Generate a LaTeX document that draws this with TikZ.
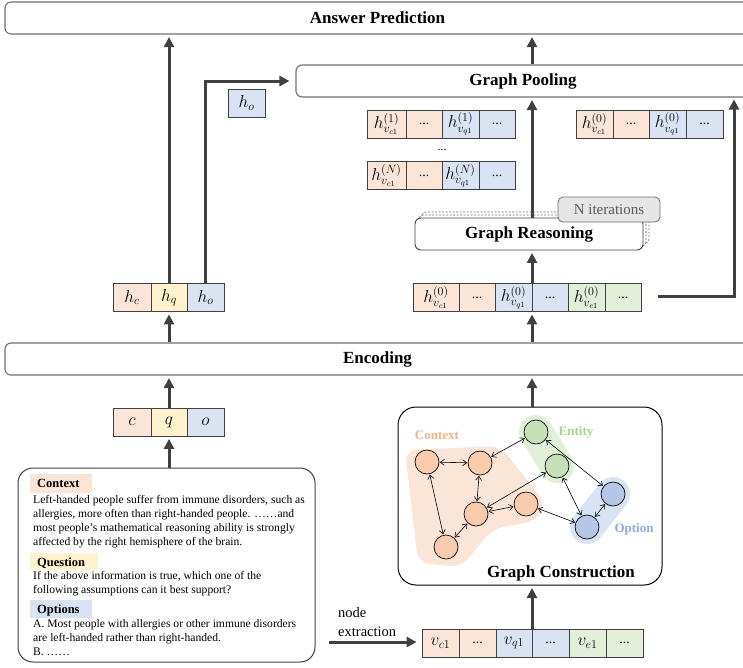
\documentclass[tikz,border=0pt]{standalone}
\usepackage{fontspec}
\setmainfont{Liberation Serif}
\usetikzlibrary{arrows.meta}
\definecolor{corange}{HTML}{FBE5D6}
\definecolor{cyellow}{HTML}{FFF2CC}
\definecolor{cblue}{HTML}{DAE3F3}
\definecolor{cgreen}{HTML}{E2F0D9}
\definecolor{norange}{HTML}{F8CBAD}
\definecolor{ngreen}{HTML}{C5E0B4}
\definecolor{nblue}{HTML}{B4C7E7}
\definecolor{lorange}{HTML}{F4B183}
\definecolor{lgreen}{HTML}{A9D18E}
\definecolor{lblue}{HTML}{8FAADC}
\definecolor{arrcol}{HTML}{404040}
\definecolor{boxcol}{HTML}{707070}
\definecolor{nitfill}{HTML}{E7E6E6}
\definecolor{nittext}{HTML}{595959}
\begin{document}
\begin{tikzpicture}[x=1pt,y=-1pt,
  bigbox/.style={draw=boxcol, line width=1.1pt, rounded corners=6pt, fill=white,
    font=\fontsize{17}{17}\selectfont\bfseries, inner sep=0pt},
  arr/.style={draw=arrcol, line width=3pt, -{Triangle[length=10pt,width=10pt]}, shorten >=2.5pt},
  cell/.style={draw=arrcol, line width=0.8pt, minimum height=28pt, inner sep=0pt,
    font=\fontsize{14}{14}\selectfont},
  mcell/.style={cell, font=\fontsize{16.5}{16.5}\selectfont},
  bigcell/.style={cell, font=\fontsize{17}{17}\selectfont},
  gn/.style={circle, draw=black, line width=0.7pt, minimum size=24pt, inner sep=0pt},
  gedge/.style={draw=black, line width=0.6pt,
    {Straight Barb[length=4pt,width=6pt]}-{Straight Barb[length=4pt,width=6pt]}, shorten <=0.5pt, shorten >=0.5pt},
  body/.style={anchor=base west, inner sep=0pt, font=\fontsize{11.6}{14}\selectfont},
  lab/.style={anchor=base west, inner sep=0pt, font=\fontsize{12.5}{14}\selectfont\bfseries},
  clab/.style={inner sep=0pt, font=\fontsize{13}{13}\selectfont\bfseries},
  ttl/.style={inner sep=0pt, font=\fontsize{17}{17}\selectfont\bfseries},
  dots/.style={inner sep=0pt, font=\fontsize{12}{12}\selectfont}
]
\path[use as bounding box] (0,0) rectangle (743,667);
\clip (0,0) rectangle (743,667);

% ---------- wide boxes ----------
\node[bigbox, minimum width=745pt, minimum height=32pt] (ap) at (377.5,18) {Answer Prediction};
\node[bigbox, minimum width=454pt, minimum height=32pt] (gp) at (523,81) {Graph Pooling};
\node[bigbox, minimum width=745pt, minimum height=32pt] (enc) at (377.5,359) {Encoding};

% ---------- left column ----------
\node[bigcell, fill=corange, minimum width=38pt] (hc) at (132,297.5) {$h_c$};
\node[bigcell, fill=cyellow, minimum width=36pt] (hq) at (169,297.5) {$h_q$};
\node[bigcell, fill=cblue, minimum width=37pt] (ho) at (205.5,297.5) {$h_o$};

\node[bigcell, fill=cblue, minimum width=37pt] (hoo) at (246.5,103) {$h_o$};

\node[bigcell, fill=corange, minimum width=38pt] (cc) at (132,422) {$c$};
\node[bigcell, fill=cyellow, minimum width=36pt] (cq) at (169,422) {$q$};
\node[bigcell, fill=cblue, minimum width=37pt] (co) at (205.5,422) {$o$};

\node[draw=arrcol, line width=1pt, rounded corners=15pt, minimum width=297pt, minimum height=194pt] (tb) at (166.5,565) {};

% labels with background
\fill[corange] (30,474) rectangle (92,493);
\fill[cyellow] (30,553) rectangle (98,570);
\fill[cblue] (30,600) rectangle (92,618);
\node[lab] (lctx) at (37,487.5) {Context};
\node[lab] (lq) at (37,566) {Question};
\node[lab] (lopt) at (37,613.5) {Options};
\node[body] (t1) at (33,503.5) {Left-handed people suffer from immune disorders, such as};
\node[body] (t2) at (33,517.5) {allergies, more often than right-handed people. ……and};
\node[body] (t3) at (33,531.5) {most people’s mathematical reasoning ability is strongly};
\node[body] (t4) at (33,545.5) {affected by the right hemisphere of the brain.};
\node[body] (t5) at (33,579.5) {If the above information is true, which one of the};
\node[body] (t6) at (33,593.5) {following assumptions can it best support?};
\node[body] (t7) at (33,627.5) {A. Most people with allergies or other immune disorders};
\node[body] (t8) at (33,641.5) {are left-handed rather than right-handed.};
\node[body] (t9) at (33,655.5) {B. ……};

\draw[arr] (tb.north -| cq.south) -- (cq.south);
\draw[arr] (cq.north) -- (cq.north |- enc.south);
\draw[arr] (enc.north -| hq.south) -- (hq.south);
\draw[arr] (hq.north) -- (hq.north |- ap.south);
\draw[arr, shorten >=6pt] (ho.north) |- (gp.west);

% ---------- right column: top rows ----------
\node[mcell, fill=corange, minimum width=39pt] (a1) at (386.5,124) {$h^{(1)}_{v_{c1}}$};
\node[cell, fill=corange, minimum width=36pt] (a2) at (424,124) {...};
\node[mcell, fill=cblue, minimum width=37pt] (a3) at (460.5,124) {$h^{(1)}_{v_{q1}}$};
\node[cell, fill=cblue, minimum width=36pt] (a4) at (497,124) {...};

\node[dots] (vd) at (442,150) {...};

\node[mcell, fill=corange, minimum width=39pt] (b1) at (386.5,175.5) {$h^{(N)}_{v_{c1}}$};
\node[cell, fill=corange, minimum width=36pt] (b2) at (424,175.5) {...};
\node[mcell, fill=cblue, minimum width=37pt] (b3) at (460.5,175.5) {$h^{(N)}_{v_{q1}}$};
\node[cell, fill=cblue, minimum width=36pt] (b4) at (497,175.5) {...};

\node[mcell, fill=corange, minimum width=37pt] (r1) at (594.5,124) {$h^{(0)}_{v_{c1}}$};
\node[cell, fill=corange, minimum width=36pt] (r2) at (631,124) {...};
\node[mcell, fill=cblue, minimum width=37pt] (r3) at (667.5,124) {$h^{(0)}_{v_{q1}}$};
\node[cell, fill=cblue, minimum width=37pt] (r4) at (704.5,124) {...};

% ---------- graph reasoning ----------
\draw[draw=boxcol, line width=0.6pt, dash pattern=on 2pt off 1.5pt, fill=white, rounded corners=6pt] (421,212) rectangle (649,244);
\draw[draw=boxcol, line width=0.6pt, dash pattern=on 2pt off 1.5pt, fill=white, rounded corners=6pt] (418,215) rectangle (646,247);
\node[draw=arrcol, line width=0.9pt, fill=white, rounded corners=6pt, minimum width=228pt, minimum height=32pt,
  font=\fontsize{17}{17}\selectfont\bfseries, inner sep=0pt] (gr) at (529,234) {Graph Reasoning};
\node[draw=boxcol, line width=0.8pt, fill=nitfill, rounded corners=5pt, minimum width=102pt, minimum height=25pt,
  text=nittext, font=\fontsize{15}{15}\selectfont, inner sep=0pt] (nit) at (609,209.5) {N iterations};

% ---------- h(0) row ----------
\node[mcell, fill=corange, minimum width=46pt] (h1) at (436,297.5) {$h^{(0)}_{v_{c1}}$};
\node[cell, fill=corange, minimum width=36pt] (h2) at (477,297.5) {...};
\node[mcell, fill=cblue, minimum width=37pt] (h3) at (513.5,297.5) {$h^{(0)}_{v_{q1}}$};
\node[cell, fill=cblue, minimum width=36pt] (h4) at (550,297.5) {...};
\node[mcell, fill=cgreen, minimum width=37pt] (h5) at (586.5,297.5) {$h^{(0)}_{v_{e1}}$};
\node[cell, fill=cgreen, minimum width=36pt] (h6) at (623,297.5) {...};

% ---------- graph construction ----------
\node[draw=black, line width=1pt, rounded corners=18pt, minimum width=264pt, minimum height=178pt] (gc) at (530,496) {};
\node[ttl] (gct) at (561,573) {Graph Construction};

% blobs
\fill[corange, rounded corners=12pt] (405,450) -- (500,446) -- (547,505) -- (536,521) -- (492,529) -- (462,567) -- (418,563) -- cycle;
\draw[cgreen, line width=34pt, line cap=round] (536,432) -- (557,466);
\draw[cblue, line width=34pt, line cap=round] (613,494) -- (587,527);

\node[clab, text=lorange] (lc) at (437,435) {Context};
\node[clab, text=lgreen] (le) at (576,432) {Entity};
\node[clab, text=lblue] (lo) at (634,529) {Option};

\node[gn, fill=norange] (c1) at (427,462) {};
\node[gn, fill=norange] (c2) at (480,463) {};
\node[gn, fill=norange] (c3) at (476,514) {};
\node[gn, fill=norange] (c4) at (526,504) {};
\node[gn, fill=norange] (c5) at (446,547) {};
\node[gn, fill=ngreen] (e1) at (536,432) {};
\node[gn, fill=ngreen] (e2) at (557,466) {};
\node[gn, fill=nblue] (o1) at (613,494) {};
\node[gn, fill=nblue] (o2) at (587,527) {};

\draw[gedge] (c1) -- (c2);
\draw[gedge] (c1) -- (c5);
\draw[gedge] (c2) -- (c3);
\draw[gedge] (c3) -- (c5);
\draw[gedge] (c3) -- (c4);
\draw[gedge] (c3) -- (e2);
\draw[gedge] (c2) -- (e1);
\draw[gedge] (c4) -- (o2);
\draw[gedge] (e1) -- (o1);
\draw[gedge] (e2) -- (o2);
\draw[gedge] (o1) -- (o2);

% ---------- v row ----------
\node[bigcell, fill=corange, minimum width=37pt] (v1) at (440.5,643) {$v_{c1}$};
\node[cell, fill=corange, minimum width=37pt] (v2) at (477.5,643) {...};
\node[bigcell, fill=cblue, minimum width=36pt] (v3) at (514,643) {$v_{q1}$};
\node[cell, fill=cblue, minimum width=37pt] (v4) at (550.5,643) {...};
\node[bigcell, fill=cgreen, minimum width=37pt] (v5) at (587.5,643) {$v_{e1}$};
\node[cell, fill=cgreen, minimum width=37pt] (v6) at (624.5,643) {...};

\node[anchor=base west, inner sep=0pt, font=\fontsize{14.5}{14.5}\selectfont] (ne1) at (338,617) {node};
\node[anchor=base west, inner sep=0pt, font=\fontsize{14.5}{14.5}\selectfont] (ne2) at (338,636) {extraction};
\coordinate (nes) at (329,642);
\draw[arr, shorten >=5pt] (nes) -- (nes -| v1.west);

% ---------- right column arrows ----------
\coordinate (xa) at (532,0);
\draw[arr] (v3.north -| xa) -- (gc.south -| xa);
\draw[arr] (gc.north -| xa) -- (enc.south -| xa);
\draw[arr] (enc.north -| xa) -- (h3.south -| xa);
\draw[arr] (h3.north -| xa) -- (gr.south -| xa);
\draw[arr] (gr.north -| xa) -- (gp.south -| xa);
\draw[arr] (gp.north -| xa) -- (ap.south -| xa);
\coordinate (rs) at (658,296);
\coordinate (rt) at (734,97);
\draw[arr] (rs) -| (rt);
\end{tikzpicture}
\end{document}
